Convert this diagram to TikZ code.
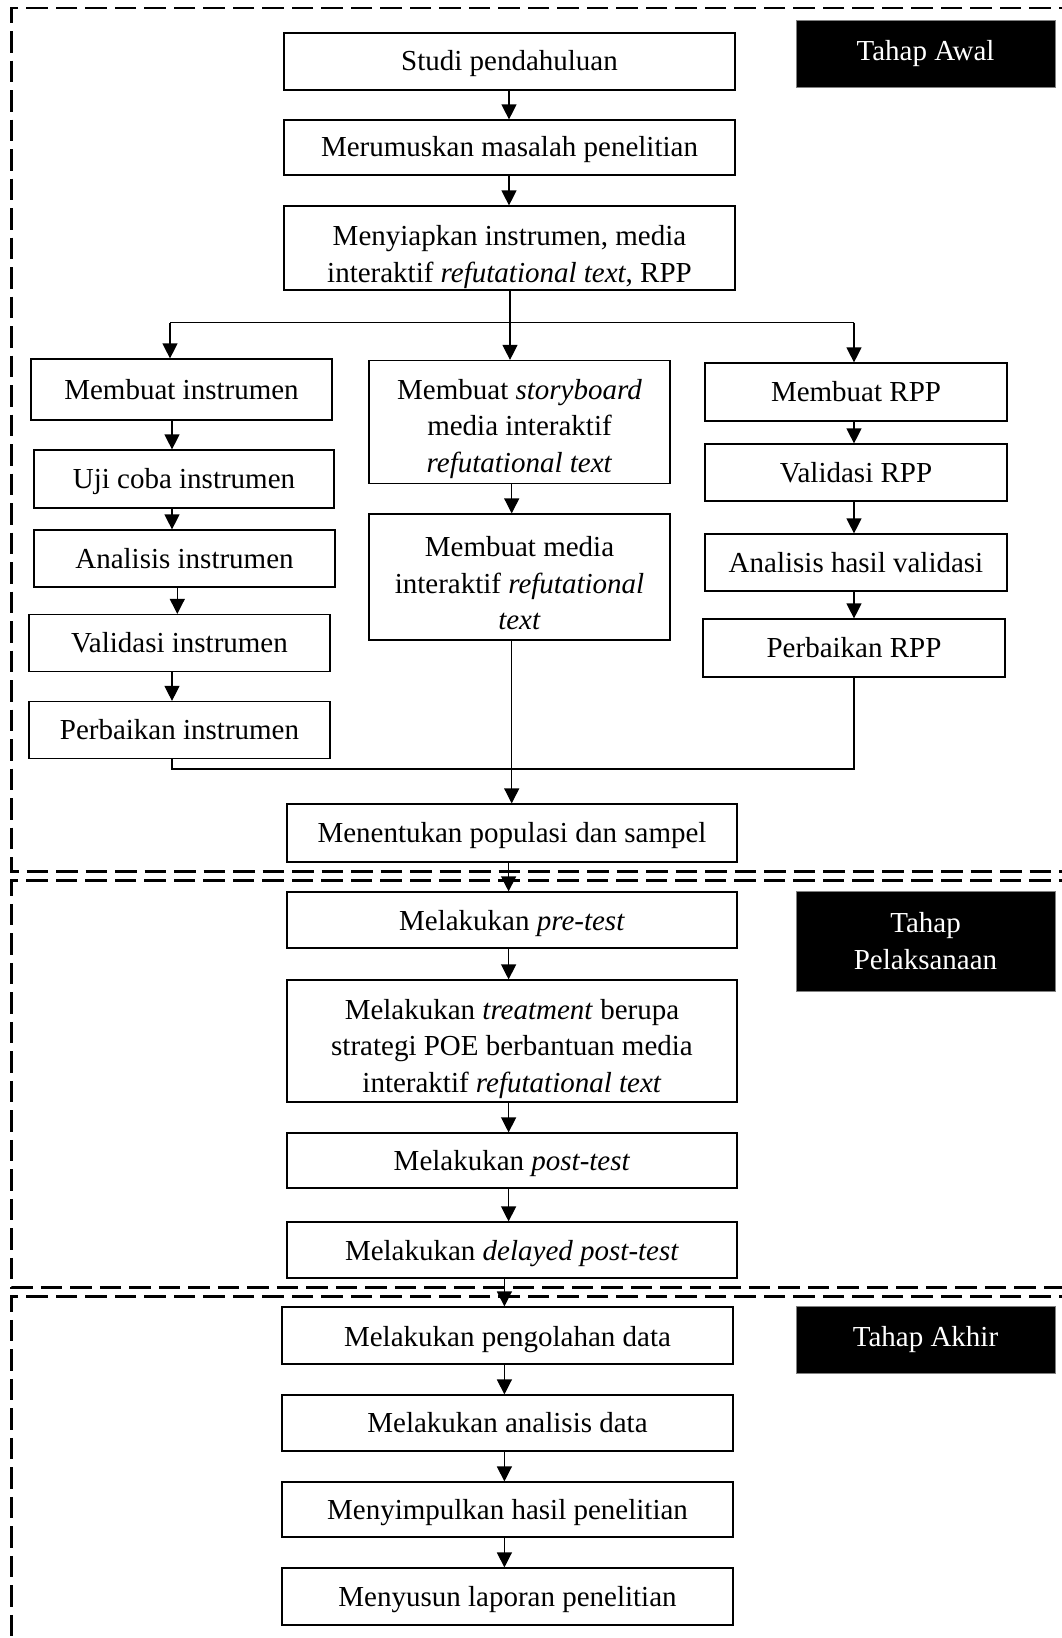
\documentclass[tikz,border=0pt]{standalone}
\usepackage{fontspec}
\setmainfont{Liberation Serif}
\usetikzlibrary{arrows.meta}
\newcommand\mybx[7][0]{%
  \node[stepbox,minimum width=#5pt,minimum height=#6pt] (#2) at (#3,#4) {};
  \node[steptext] (#2t) at ([yshift=-#1pt]#2.center) {#7};}
\begin{document}
\begin{tikzpicture}[x=1pt,y=-1pt,
  stepbox/.style={draw, line width=1.2pt, fill=white, inner sep=0pt},
  steptext/.style={inner sep=0pt, align=center, font=\fontsize{29}{36.5}\selectfont},
  tagbox/.style={draw=gray, line width=0.8pt, fill=black, text=white, inner sep=0pt, align=center, font=\fontsize{29}{36.5}\selectfont},
  conn/.style={line width=1.2pt},
  arr/.style={conn, -{Triangle[length=15pt,width=15pt]}},
  phase/.style={line width=2.6pt, dash pattern=on 21.5pt off 8pt}]
\useasboundingbox (0,0) rectangle (1062,1638);
\clip (0,0) rectangle (1062,1638);
\fill[white] (0,0) rectangle (1062,1638);
% phase frames
\draw[phase] (1080,8) -- (11.7,8) -- (11.7,871.7) -- (1080,871.7);
\draw[phase] (1080,880.7) -- (11.7,880.7) -- (11.7,1287.7) -- (1080,1287.7);
\draw[phase] (1080,1296.7) -- (11.7,1296.7) -- (11.7,1660);
% tags
\node[tagbox,minimum width=259pt,minimum height=67pt] (tawal) at (925.5,53.5) {Tahap Awal};
\node[tagbox,minimum width=259pt,minimum height=100pt] (tpel) at (925.5,941) {Tahap\\Pelaksanaan};
\node[tagbox,minimum width=259pt,minimum height=67pt] (takhir) at (925.5,1339.5) {Tahap Akhir};
% top column
\mybx[2]{studi}{509.5}{61.5}{451}{57}{Studi pendahuluan}
\mybx[2]{rumus}{509.5}{147.5}{451}{55}{Merumuskan masalah penelitian}
\mybx[9]{siap}{509.5}{248}{451}{84}{Menyiapkan instrumen, media\\interaktif \textit{refutational text}, RPP}
% left column
\mybx{inst}{181.5}{389.5}{301}{61}{Membuat instrumen}
\mybx[3]{uji}{184}{479}{300}{58}{Uji coba instrumen}
\mybx{anins}{184.5}{558.5}{301}{57}{Analisis instrumen}
\mybx{valins}{179.5}{643}{301}{57}{Validasi instrumen}
\mybx{perins}{179.5}{730}{301}{57}{Perbaikan instrumen}
% middle column
\mybx[7]{story}{519.5}{422}{301}{123}{Membuat \textit{storyboard}\\media interaktif\\\textit{refutational text}}
\mybx[6.5]{media}{519.5}{577}{301}{126}{Membuat media\\interaktif \textit{refutational}\\\textit{text}}
% right column
\mybx{rpp}{856}{392}{302}{58}{Membuat RPP}
\mybx{valrpp}{856}{472.5}{302}{57}{Validasi RPP}
\mybx{anrpp}{856}{562.5}{302}{57}{Analisis hasil validasi}
\mybx{perrpp}{854}{648}{302}{58}{Perbaikan RPP}
% bottom of stage 1
\mybx[3]{pop}{512}{833}{450}{58}{Menentukan populasi dan sampel}
% stage 2
\mybx[4]{pre}{512}{920}{450}{56}{Melakukan \textit{pre-test}}
\mybx[8]{treat}{512}{1041}{450}{122}{Melakukan \textit{treatment} berupa\\strategi POE berbantuan media\\interaktif \textit{refutational text}}
\mybx[3]{post}{512}{1160.5}{450}{55}{Melakukan \textit{post-test}}
\mybx[4]{delay}{512}{1250}{450}{56}{Melakukan \textit{delayed post-test}}
% stage 3
\mybx[4]{olah}{507.5}{1335.5}{451}{57}{Melakukan pengolahan data}
\mybx{anal}{507.5}{1423}{451}{56}{Melakukan analisis data}
\mybx[3]{simpul}{507.5}{1509.5}{451}{55}{Menyimpulkan hasil penelitian}
\mybx[3]{susun}{507.5}{1596.5}{451}{57}{Menyusun laporan penelitian}
% coordinates
\coordinate (cx1) at (509,0);
\coordinate (lx) at (172,0);
\coordinate (lx2) at (177.3,0);
\coordinate (mx) at (511.7,0);
\coordinate (rx) at (854,0);
\coordinate (bl) at (170,322.7);
\coordinate (bm) at (510,322.7);
\coordinate (br) at (854,322.7);
\coordinate (jl) at (172,769);
\coordinate (jm) at (511.7,769);
\coordinate (jr) at (854,769);
\coordinate (cx2) at (508.6,0);
\coordinate (cx3) at (504.4,0);
% top arrows
\draw[arr] (studi.south -| cx1) -- (rumus.north -| cx1);
\draw[arr] (rumus.south -| cx1) -- (siap.north -| cx1);
\draw[conn] (siap.south -| bm) -- (bm);
\draw[conn] (bl) -- (br);
\draw[arr] (bl) -- (inst.north -| bl);
\draw[arr] (bm) -- (story.north -| bm);
\draw[arr] (br) -- (rpp.north -| br);
% left column
\draw[arr] (inst.south -| lx) -- (uji.north -| lx);
\draw[arr] (uji.south -| lx) -- (anins.north -| lx);
\draw[arr] (anins.south -| lx2) -- (valins.north -| lx2);
\draw[arr] (valins.south -| lx) -- (perins.north -| lx);
% middle column
\draw[arr] (story.south -| mx) -- (media.north -| mx);
% right column
\draw[arr] (rpp.south -| rx) -- (valrpp.north -| rx);
\draw[arr] (valrpp.south -| rx) -- (anrpp.north -| rx);
\draw[arr] (anrpp.south -| rx) -- (perrpp.north -| rx);
% join
\draw[conn] (perins.south -| jl) -- (jl) -- (jr) -- (perrpp.south -| jr);
\draw[arr] (media.south -| jm) -- (pop.north -| jm);
% stage 2
\draw[arr] (pop.south -| cx2) -- (pre.north -| cx2);
\draw[arr] (pre.south -| cx2) -- (treat.north -| cx2);
\draw[arr] (treat.south -| cx2) -- (post.north -| cx2);
\draw[arr] (post.south -| cx2) -- (delay.north -| cx2);
% stage 3
\draw[arr] (delay.south -| cx3) -- (olah.north -| cx3);
\draw[arr] (olah.south -| cx3) -- (anal.north -| cx3);
\draw[arr] (anal.south -| cx3) -- (simpul.north -| cx3);
\draw[arr] (simpul.south -| cx3) -- (susun.north -| cx3);
\end{tikzpicture}
\end{document}
